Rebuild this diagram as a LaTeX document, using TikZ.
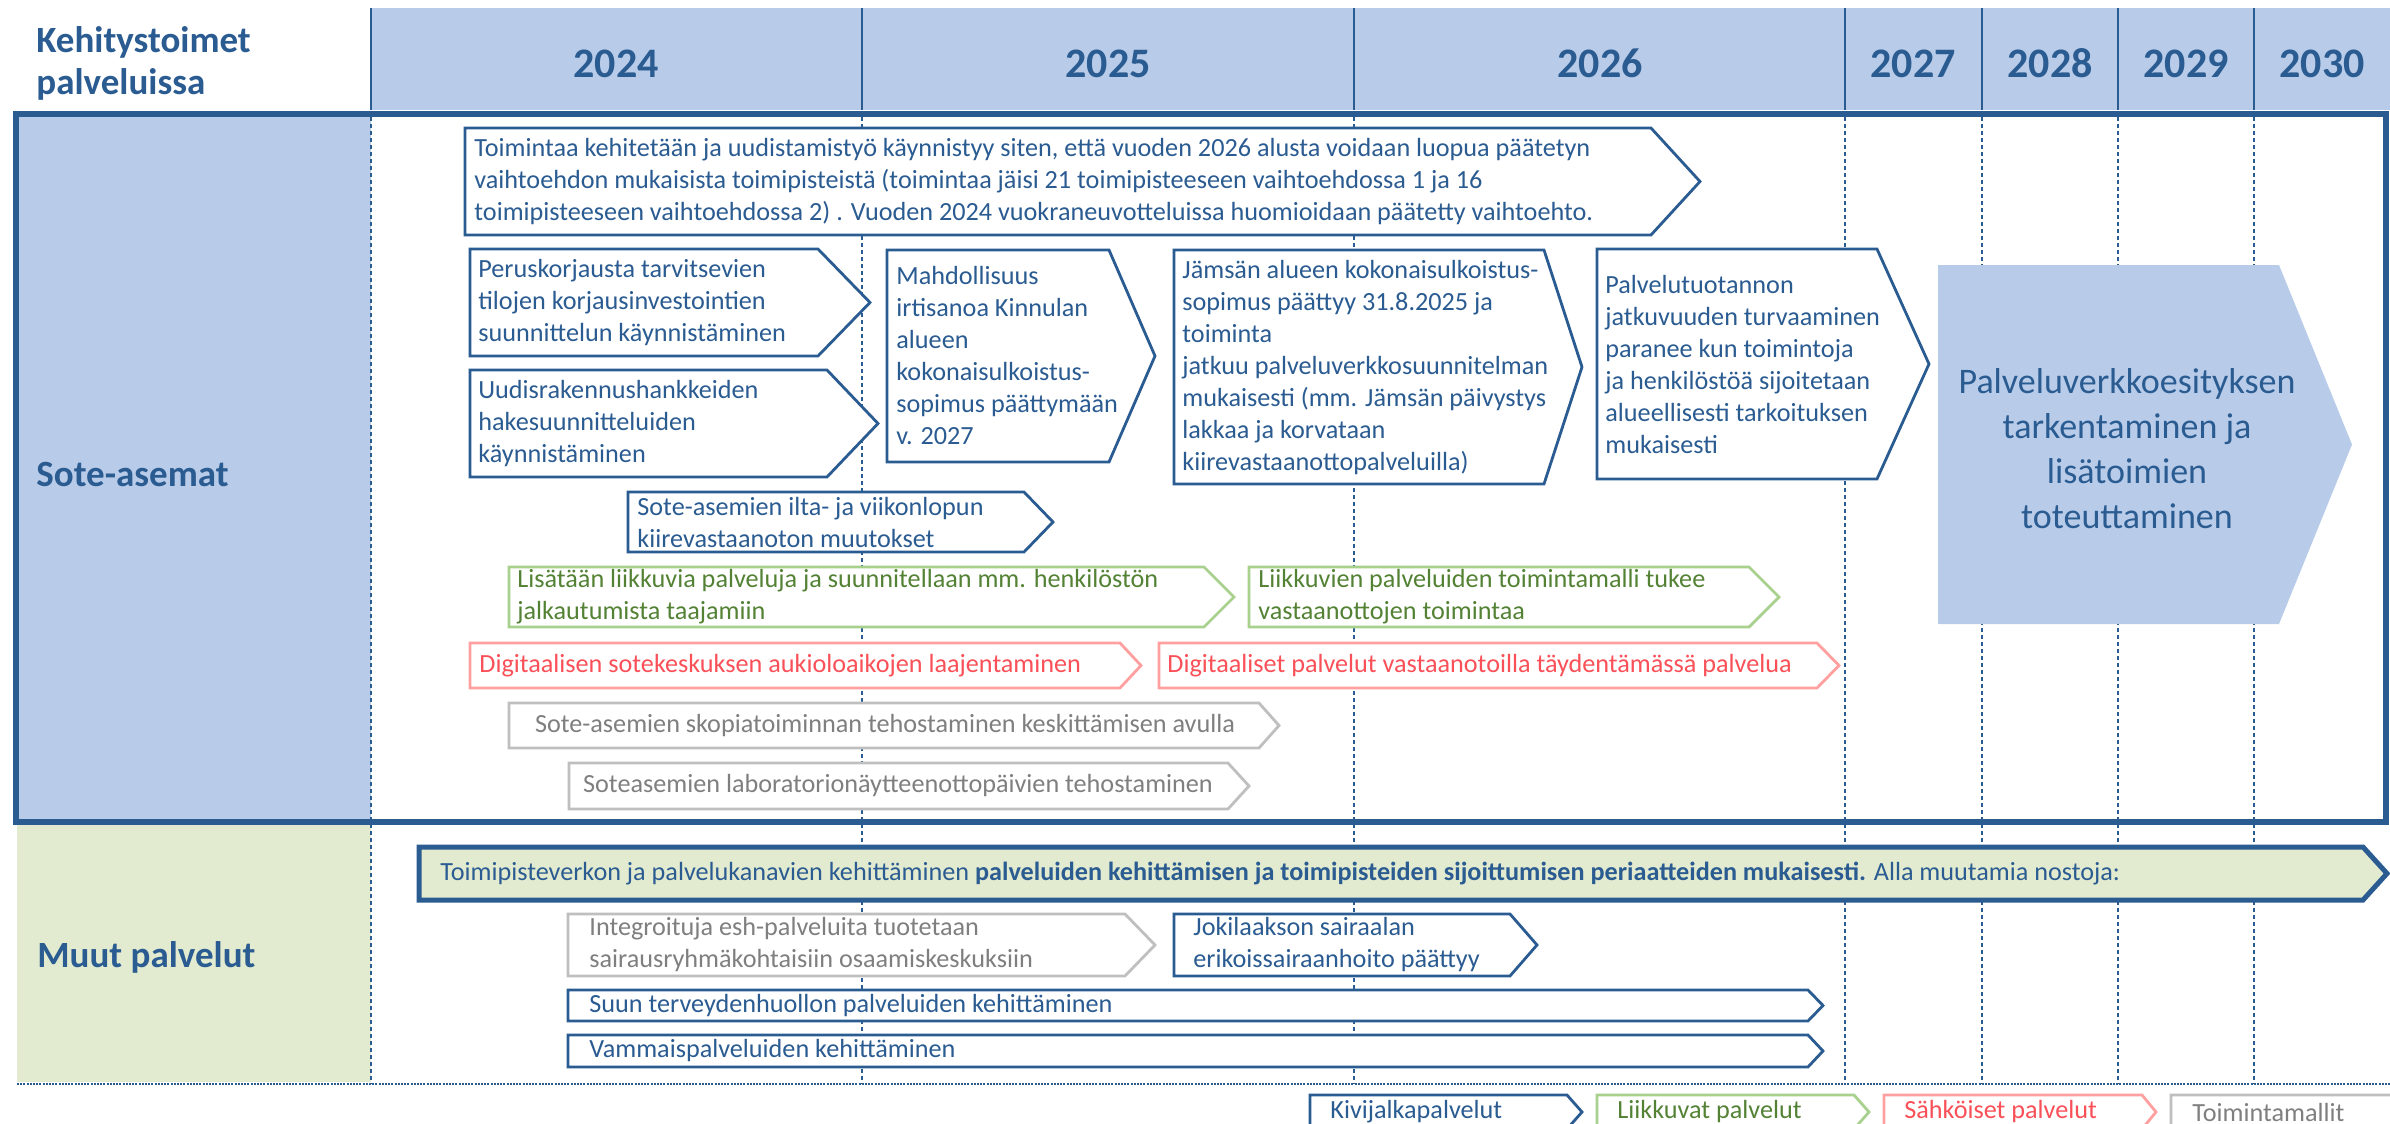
\documentclass[tikz,border=0pt]{standalone}
\usepackage{fontspec}
\setmainfont{Carlito}
\definecolor{tumma}{RGB}{42,91,145}
\definecolor{vaalea}{RGB}{184,204,233}
\definecolor{vihertausta}{RGB}{226,235,208}
\definecolor{vihrea}{RGB}{169,209,142}
\definecolor{vihreateksti}{RGB}{84,130,53}
\definecolor{punainen}{RGB}{255,160,160}
\definecolor{punateksti}{RGB}{250,80,88}
\definecolor{harmaa}{RGB}{191,191,191}
\definecolor{harmaateksti}{RGB}{127,127,127}
\tikzset{
  kivi/.style={draw=tumma, line width=1.4pt, fill=white},
  liikkuva/.style={draw=vihrea, line width=1.4pt, fill=white},
  sahkoinen/.style={draw=punainen, line width=1.4pt, fill=white},
  malli/.style={draw=harmaa, line width=1.4pt, fill=white},
  teksti/.style={inner sep=0pt, anchor=west, align=left, text=tumma, font=\fontsize{13.1}{16}\selectfont},
  otsikko/.style={inner sep=0pt, text=tumma, font=\fontsize{18.5}{21}\selectfont\bfseries},
  vuosi/.style={inner sep=0pt, anchor=base, text=tumma, font=\fontsize{21}{25}\selectfont\bfseries},
  vali/.style={tumma, line width=0.7pt, dash pattern=on 2pt off 1.5pt}
}
\begin{document}
\begin{tikzpicture}[x=0.5pt,y=-0.5pt]
    \useasboundingbox (0,0) rectangle (2390,1124);
    \clip (0,0) rectangle (2390,1124);
    \fill[white] (0,0) rectangle (2390,1124);
    % otsikkorivi
    \fill[vaalea] (371,8) rectangle (2390,110);
    \foreach \x in {371,862,1354,1845,1982,2118,2254}
        \draw[tumma, line width=1pt] (\x,8) -- (\x,110);
    \foreach \x/\v in {616/2024,1108/2025,1600/2026,1913/2027,2050/2028,2186/2029,2322/2030}
        \node[vuosi] (v\v) at (\x,77) {\v};
    \node[otsikko, anchor=west, align=left] (kehitys) at (36,63.5) {Kehitystoimet\\palveluissa};
    % rivien taustat
    \fill[vaalea] (16,114) rectangle (371,822);
    \fill[vihertausta] (17,825) rectangle (371,1082);
    \foreach \x in {371,862,1354,1845,1982,2118,2254}
        \draw[vali] (\x,117) -- (\x,1084);
    \draw[tumma, line width=1pt, dash pattern=on 1pt off 0.6pt] (17,1084) -- (2390,1084);
    \draw[tumma, line width=3pt] (16,114) rectangle (2386,822);
    \node[otsikko, anchor=base west] (sote) at (36,486) {Sote-asemat};
    \node[otsikko, anchor=base west] (muut) at (37,967) {Muut palvelut};

    % Sote-asemat
    \draw[kivi] (465,128) -- (1651,128) -- (1700,181.5) -- (1651,235) -- (465,235) -- cycle;
    \node[teksti] (uudistus) at (474,181.5) {Toimintaa kehitetään ja uudistamistyö käynnistyy siten, että vuoden 2026 alusta voidaan luopua päätetyn\\vaihtoehdon mukaisista toimipisteistä (toimintaa jäisi 21 toimipisteeseen vaihtoehdossa 1 ja 16\\toimipisteeseen vaihtoehdossa 2) . Vuoden 2024 vuokraneuvotteluissa huomioidaan päätetty vaihtoehto.};
    \draw[kivi] (470,249) -- (818,249) -- (870,302.5) -- (818,356) -- (470,356) -- cycle;
    \node[teksti] (perus) at (478,302.5) {Peruskorjausta tarvitsevien\\tilojen korjausinvestointien\\suunnittelun käynnistäminen};
    \draw[kivi] (470,370) -- (827,370) -- (878,423.5) -- (827,477) -- (470,477) -- cycle;
    \node[teksti] (uudis) at (478,423.5) {Uudisrakennushankkeiden\\hakesuunnitteluiden\\käynnistäminen};
    \draw[kivi] (887,250) -- (1109,250) -- (1155,356) -- (1109,462) -- (887,462) -- cycle;
    \node[teksti] (kinnula) at (896,356) {Mahdollisuus\\irtisanoa Kinnulan\\alueen\\kokonaisulkoistus-\\sopimus päättymään\\v. 2027};
    \draw[kivi] (1174,250) -- (1544,250) -- (1582,367) -- (1544,484) -- (1174,484) -- cycle;
    \node[teksti] (jamsa) at (1182,368) {Jämsän alueen kokonaisulkoistus-\\sopimus päättyy 31.8.2025 ja\\toiminta\\jatkuu palveluverkkosuunnitelman\\mukaisesti (mm. Jämsän päivystys\\lakkaa ja korvataan\\kiirevastaanottopalveluilla)};
    \draw[kivi] (1597,249) -- (1877,249) -- (1929,364) -- (1877,479) -- (1597,479) -- cycle;
    \node[teksti] (jatkuvuus) at (1605,364) {Palvelutuotannon\\jatkuvuuden turvaaminen\\paranee kun toimintoja\\ja henkilöstöä sijoitetaan\\alueellisesti tarkoituksen\\mukaisesti};
    \fill[vaalea] (1938,265) -- (2279,265) -- (2352,444.5) -- (2279,624) -- (1938,624) -- cycle;
    \node[teksti, anchor=center, align=center, font=\fontsize{18}{22.5}\selectfont] (esitys) at (2127,449) {Palveluverkkoesityksen\\tarkentaminen ja\\lisätoimien\\toteuttaminen};
    \draw[kivi] (628,492) -- (1024,492) -- (1053,522) -- (1024,552) -- (628,552) -- cycle;
    \node[teksti] (ilta) at (637,522) {Sote-asemien ilta- ja viikonlopun\\kiirevastaanoton muutokset};
    \draw[liikkuva] (509,567) -- (1204,567) -- (1234,597) -- (1204,627) -- (509,627) -- cycle;
    \node[teksti, text=vihreateksti] (lisataan) at (517,597) {Lisätään liikkuvia palveluja ja suunnitellaan mm. henkilöstön\\jalkautumista taajamiin};
    \draw[liikkuva] (1249,567) -- (1749,567) -- (1779,597) -- (1749,627) -- (1249,627) -- cycle;
    \node[teksti, text=vihreateksti] (liikkuvat) at (1258,597) {Liikkuvien palveluiden toimintamalli tukee\\vastaanottojen toimintaa};
    \draw[sahkoinen] (470,643) -- (1120,643) -- (1141,665.5) -- (1120,688) -- (470,688) -- cycle;
    \node[teksti, text=punateksti] (aukiolo) at (479,665.5) {Digitaalisen sotekeskuksen aukioloaikojen laajentaminen};
    \draw[sahkoinen] (1159,643) -- (1817,643) -- (1839,665.5) -- (1817,688) -- (1159,688) -- cycle;
    \node[teksti, text=punateksti] (digi) at (1167,665.5) {Digitaaliset palvelut vastaanotoilla täydentämässä palvelua};
    \draw[malli] (509,703) -- (1259,703) -- (1279,725.5) -- (1259,748) -- (509,748) -- cycle;
    \node[teksti, anchor=center, text=harmaateksti] (skopia) at (885,725.5) {Sote-asemien skopiatoiminnan tehostaminen keskittämisen avulla};
    \draw[malli] (569,763) -- (1228,763) -- (1249,786) -- (1228,809) -- (569,809) -- cycle;
    \node[teksti, anchor=center, text=harmaateksti] (labra) at (898,786) {Soteasemien laboratorionäytteenottopäivien tehostaminen};

    % Muut palvelut
    \fill[vihertausta] (419,847) -- (2363,847) -- (2387,873.5) -- (2363,900) -- (419,900) -- cycle;
    \draw[tumma, line width=2.5pt] (419,847) -- (2363,847) -- (2387,873.5) -- (2363,900) -- (419,900) -- cycle;
    \node[teksti] (verkko) at (440,873.5) {Toimipisteverkon ja palvelukanavien kehittäminen \textbf{palveluiden kehittämisen ja toimipisteiden sijoittumisen periaatteiden mukaisesti.} Alla muutamia nostoja:};
    \draw[malli] (568,914) -- (1125,914) -- (1155,945) -- (1125,976) -- (568,976) -- cycle;
    \node[teksti, text=harmaateksti] (esh) at (589,945) {Integroituja esh-palveluita tuotetaan\\sairausryhmäkohtaisiin osaamiskeskuksiin};
    \draw[kivi] (1174,914) -- (1510,914) -- (1537,945) -- (1510,976) -- (1174,976) -- cycle;
    \node[teksti] (joki) at (1193,945) {Jokilaakson sairaalan\\erikoissairaanhoito päättyy};
    \draw[kivi] (568,990) -- (1808,990) -- (1823,1005.5) -- (1808,1021) -- (568,1021) -- cycle;
    \node[teksti] (suun) at (589,1005.5) {Suun terveydenhuollon palveluiden kehittäminen};
    \draw[kivi] (568,1035) -- (1808,1035) -- (1823,1051) -- (1808,1067) -- (568,1067) -- cycle;
    \node[teksti] (vamma) at (589,1051) {Vammaispalveluiden kehittäminen};

    % selite
    \draw[kivi] (1310,1095) -- (1567,1095) -- (1582,1112) -- (1567,1129) -- (1310,1129) -- cycle;
    \node[teksti] (s1) at (1330,1112) {Kivijalkapalvelut};
    \draw[liikkuva] (1597,1095) -- (1854,1095) -- (1869,1112) -- (1854,1129) -- (1597,1129) -- cycle;
    \node[teksti, text=vihreateksti] (s2) at (1617,1112) {Liikkuvat palvelut};
    \draw[sahkoinen] (1884,1095) -- (2142,1095) -- (2156,1112) -- (2142,1129) -- (1884,1129) -- cycle;
    \node[teksti, text=punateksti] (s3) at (1904,1112) {Sähköiset palvelut};
    \draw[malli] (2171,1095) -- (2430,1095) -- (2445,1112) -- (2430,1129) -- (2171,1129) -- cycle;
    \node[teksti, text=harmaateksti] (s4) at (2192,1112) {Toimintamallit};
\end{tikzpicture}
\end{document}
